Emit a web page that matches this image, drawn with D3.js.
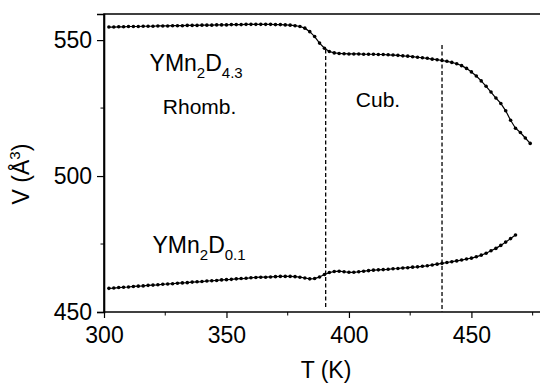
<!DOCTYPE html>
<html>
<head>
<meta charset="utf-8">
<script src="https://cdn.jsdelivr.net/npm/d3@7"></script>
<style>
  body { margin: 0; background: #fff; }
  svg { font-family: "Liberation Sans", Arial, sans-serif; }
</style>
</head>
<body>
<script>
// temperature grid (K), shared by both samples
const temps = [302, 304, 306, 308, 310, 312, 314, 316, 318, 320, 322, 324, 326, 328, 330,
  332, 334, 336, 338, 340, 342, 344, 346, 348, 350, 352, 354, 356, 358, 360, 362, 364, 366,
  368, 370, 372, 374, 376, 378, 380, 382, 384, 386, 388, 390, 392, 394, 396, 398, 400, 402,
  404, 406, 408, 410, 412, 414, 416, 418, 420, 422, 424, 426, 428, 430, 432, 434, 436, 438,
  440, 442, 444, 446, 448, 450, 452, 454, 456, 458, 460, 462, 464, 466, 468, 470, 472, 474];

// YMn2D4.3 cell volume (A^3)
const volD43 = [554.8, 554.8, 554.9, 554.9, 555.0, 555.0, 555.0, 555.1, 555.1, 555.1, 555.2,
  555.2, 555.2, 555.3, 555.3, 555.3, 555.4, 555.4, 555.4, 555.5, 555.5, 555.5, 555.6, 555.6,
  555.6, 555.7, 555.7, 555.7, 555.8, 555.8, 555.8, 555.8, 555.8, 555.8, 555.7, 555.7, 555.6,
  555.5, 555.3, 555.0, 554.4, 553.1, 551.3, 548.9, 547.0, 545.8, 545.3, 545.1, 545.0, 544.9,
  544.9, 544.9, 544.8, 544.8, 544.8, 544.7, 544.7, 544.6, 544.5, 544.4, 544.2, 544.1, 543.9,
  543.7, 543.5, 543.3, 543.0, 542.8, 542.5, 542.2, 541.8, 541.3, 540.6, 539.6, 538.3, 536.8,
  535.0, 533.0, 530.9, 528.7, 526.7, 524.0, 520.5, 517.6, 516.0, 514.0, 512.0];

// YMn2D0.1 cell volume (A^3), stops at 468 K
const volD01 = [458.7, 458.8, 459.0, 459.1, 459.2, 459.4, 459.5, 459.6, 459.8, 459.9, 460.0,
  460.2, 460.3, 460.4, 460.6, 460.7, 460.8, 461.0, 461.1, 461.2, 461.4, 461.5, 461.6, 461.8,
  461.9, 462.0, 462.2, 462.3, 462.4, 462.6, 462.7, 462.8, 462.8, 462.9, 463.0, 463.1, 463.1,
  463.1, 463.0, 462.8, 462.5, 462.2, 462.3, 462.9, 463.8, 464.5, 464.9, 465.0, 464.8, 464.6,
  464.6, 464.8, 465.0, 465.2, 465.4, 465.5, 465.6, 465.7, 465.9, 466.0, 466.2, 466.3, 466.5,
  466.6, 466.8, 467.0, 467.3, 467.6, 467.9, 468.2, 468.5, 468.8, 469.1, 469.5, 469.8, 470.3,
  470.9, 471.6, 472.5, 473.4, 474.5, 475.7, 477.0, 478.3];

const xTicks = [300, 350, 400, 450];
const xMinor = [325, 375, 425, 475];
const yTicks = [450, 500, 550];
const yMinor = [475, 525];

// phase boundaries: [T, V top, V bottom]
const boundaries = [[390.5, 546.5, 451.5], [438, 548.2, 450]];

const labels = [
  {t: 318.6, v: 538.6, main: "YMn", sub1: "2", mid: "D", sub2: "4.3"},
  {t: 319.8, v: 471.7, main: "YMn", sub1: "2", mid: "D", sub2: "0.1"}
];
const phases = [
  {t: 324, v: 522.8, text: "Rhomb."},
  {t: 402.8, v: 525.4, text: "Cub."}
];

const width = 540, height = 384;
const x = d3.scaleLinear().domain([300, 478]).range([104, 540]);
const y = d3.scaleLinear().domain([450, 559.6]).range([312, 14]);

const svg = d3.select("body").append("svg")
    .attr("width", width)
    .attr("height", height);

// frame: top and left lines
svg.append("path")
    .attr("d", `M${x(300)},${y(450)}V${y(559.6)}H${width}`)
    .attr("fill", "none")
    .attr("stroke", "#000")
    .attr("stroke-width", 1.6);

const xAxis = svg.append("g")
    .attr("transform", `translate(0,${y(450)})`)
    .call(d3.axisBottom(x).tickValues(xTicks).tickSize(6).tickPadding(9));
xAxis.selectAll(".minor")
    .data(xMinor)
  .enter().append("line")
    .attr("class", "minor")
    .attr("x1", d => x(d)).attr("x2", d => x(d))
    .attr("y1", 0).attr("y2", 3.5)
    .attr("stroke", "#000");

const yAxis = svg.append("g")
    .attr("transform", `translate(${x(300)},0)`)
    .call(d3.axisLeft(y).tickValues(yTicks).tickSize(7).tickPadding(5));
yAxis.selectAll(".minor")
    .data(yMinor)
  .enter().append("line")
    .attr("class", "minor")
    .attr("y1", d => y(d)).attr("y2", d => y(d))
    .attr("x1", 0).attr("x2", -3.5)
    .attr("stroke", "#000");

svg.selectAll(".domain")
    .attr("stroke-width", 1.6);
svg.selectAll(".tick line")
    .attr("stroke-width", 1.2);
svg.selectAll(".tick text")
    .attr("font-size", 23)
    .attr("font-family", "'Liberation Sans', Arial, sans-serif")
    .attr("fill", "#000");
xAxis.select(".domain").attr("d", `M${x(300)},0H${width}`);

// dashed phase boundaries
svg.selectAll(".bound")
    .data(boundaries)
  .enter().append("line")
    .attr("class", "bound")
    .attr("x1", d => x(d[0])).attr("x2", d => x(d[0]))
    .attr("y1", d => y(d[1])).attr("y2", d => y(d[2]))
    .attr("stroke", "#000")
    .attr("stroke-width", 1.3)
    .attr("stroke-dasharray", "4,2.5");

// data points
const series = [volD43, volD01];
series.forEach(vals => {
  svg.append("path")
      .datum(vals)
      .attr("d", d3.line().x((d, i) => x(temps[i])).y(d => y(d)))
      .attr("fill", "none")
      .attr("stroke", "#000")
      .attr("stroke-width", 1.2);
  svg.append("g")
    .selectAll("circle")
    .data(vals)
    .enter().append("circle")
      .attr("cx", (d, i) => x(temps[i]))
      .attr("cy", d => y(d))
      .attr("r", 1.8)
      .attr("fill", "#000");
});

// compound labels
labels.forEach(l => {
  const t = svg.append("text")
      .attr("x", x(l.t))
      .attr("y", y(l.v))
      .attr("font-size", 23);
  t.append("tspan").text(l.main);
  t.append("tspan").attr("font-size", 15).attr("dy", 7).text(l.sub1);
  t.append("tspan").attr("dy", -7).text(l.mid);
  t.append("tspan").attr("font-size", 15).attr("dy", 7).text(l.sub2);
});

svg.selectAll(".phase")
    .data(phases)
  .enter().append("text")
    .attr("class", "phase")
    .attr("x", d => x(d.t))
    .attr("y", d => y(d.v))
    .attr("font-size", 21)
    .text(d => d.text);

// axis titles
svg.append("text")
    .attr("x", 326)
    .attr("y", 378)
    .attr("text-anchor", "middle")
    .attr("font-size", 23)
    .text("T (K)");

const yTitle = svg.append("text")
    .attr("transform", "translate(29,174) rotate(-90)")
    .attr("text-anchor", "middle")
    .attr("font-size", 23);
yTitle.append("tspan").text("V (Å");
yTitle.append("tspan").attr("font-size", 15).attr("dy", -9).text("3");
yTitle.append("tspan").attr("dy", 9).text(")");
</script>
</body>
</html>
